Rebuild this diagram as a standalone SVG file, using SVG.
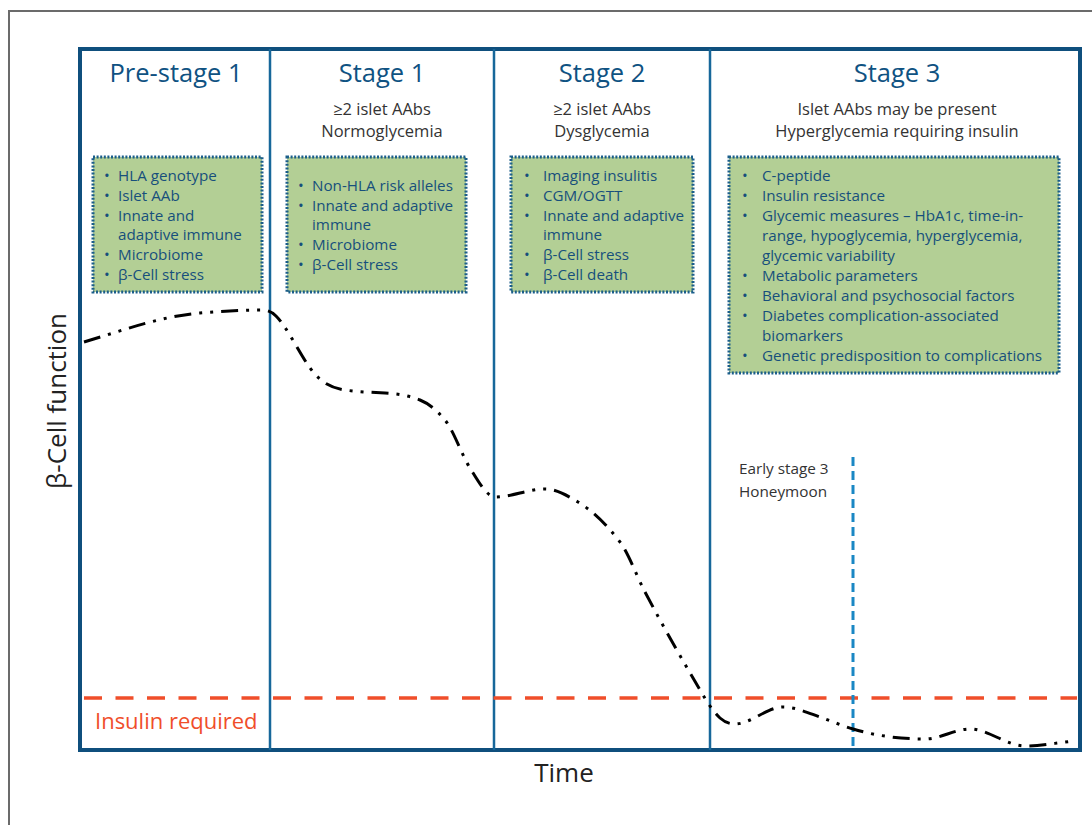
<svg xmlns="http://www.w3.org/2000/svg" width="1092" height="825" viewBox="0 0 1092 825">
  <defs>
    <style>
      .frame { fill: none; stroke: #0f4f7d; stroke-width: 4; }
      .divider { stroke: #17679a; stroke-width: 2.5; }
      .head { font-family: "Open Sans", "Noto Sans", sans-serif; font-size: 25.5px; fill: #0f5282; text-anchor: middle; }
      .sub { font-family: "Open Sans", "Noto Sans", sans-serif; font-size: 16.5px; fill: #333333; text-anchor: middle; }
      .box { fill: #b3cf95; stroke: #1b5e8a; stroke-width: 3; stroke-dasharray: 2 1.6; }
      .item { font-family: "Open Sans", "Noto Sans", sans-serif; font-size: 15.2px; fill: #174f7c; }
      .axis { font-family: "Open Sans", "Noto Sans", sans-serif; font-size: 26px; fill: #222222; }
      .note { font-family: "Open Sans", "Noto Sans", sans-serif; font-size: 15.3px; fill: #333333; }
    </style>
  </defs>

  <rect width="1092" height="825" fill="#ffffff"/>
  <!-- outer panel border -->
  <path d="M9,825 V11 H1092" fill="none" stroke="#6b6b6b" stroke-width="2"/>

  <!-- plot frame and stage dividers -->
  <g id="frame">
    <rect class="frame" x="80" y="49" width="1000" height="701"/>
    <line class="divider" x1="270" y1="49" x2="270" y2="750"/>
    <line class="divider" x1="494" y1="49" x2="494" y2="750"/>
    <line class="divider" x1="710" y1="49" x2="710" y2="750"/>
  </g>

  <!-- axis labels -->
  <text class="axis" x="66" y="401" text-anchor="middle" transform="rotate(-90 66 401)">β-Cell function</text>
  <text class="axis" x="564" y="782" text-anchor="middle">Time</text>

  <g id="prestage1">
    <text class="head" x="176" y="82">Pre-stage 1</text>
    <rect class="box" x="93" y="157" width="169" height="135"/>
    <text class="item">
      <tspan x="104" y="181">•</tspan><tspan x="118" y="181">HLA genotype</tspan>
      <tspan x="104" y="201">•</tspan><tspan x="118" y="201">Islet AAb</tspan>
      <tspan x="104" y="221">•</tspan><tspan x="118" y="221">Innate and</tspan>
      <tspan x="118" y="240">adaptive immune</tspan>
      <tspan x="104" y="260">•</tspan><tspan x="118" y="260">Microbiome</tspan>
      <tspan x="104" y="280">•</tspan><tspan x="118" y="280">β-Cell stress</tspan>
    </text>
  </g>

  <g id="stage1">
    <text class="head" x="382" y="82">Stage 1</text>
    <text class="sub" x="382" y="115">≥2 islet AAbs</text>
    <text class="sub" x="382" y="137">Normoglycemia</text>
    <rect class="box" x="287" y="157" width="179" height="135"/>
    <text class="item">
      <tspan x="298" y="191">•</tspan><tspan x="312" y="191">Non-HLA risk alleles</tspan>
      <tspan x="298" y="211">•</tspan><tspan x="312" y="211">Innate and adaptive</tspan>
      <tspan x="312" y="230">immune</tspan>
      <tspan x="298" y="250">•</tspan><tspan x="312" y="250">Microbiome</tspan>
      <tspan x="298" y="270">•</tspan><tspan x="312" y="270">β-Cell stress</tspan>
    </text>
  </g>

  <g id="stage2">
    <text class="head" x="602" y="82">Stage 2</text>
    <text class="sub" x="602" y="115">≥2 islet AAbs</text>
    <text class="sub" x="602" y="137">Dysglycemia</text>
    <rect class="box" x="511" y="157" width="182" height="135"/>
    <text class="item">
      <tspan x="524" y="181">•</tspan><tspan x="543" y="181">Imaging insulitis</tspan>
      <tspan x="524" y="201">•</tspan><tspan x="543" y="201">CGM/OGTT</tspan>
      <tspan x="524" y="221">•</tspan><tspan x="543" y="221">Innate and adaptive</tspan>
      <tspan x="543" y="240">immune</tspan>
      <tspan x="524" y="260">•</tspan><tspan x="543" y="260">β-Cell stress</tspan>
      <tspan x="524" y="280">•</tspan><tspan x="543" y="280">β-Cell death</tspan>
    </text>
  </g>

  <g id="stage3">
    <text class="head" x="897" y="82">Stage 3</text>
    <text class="sub" x="897" y="115">Islet AAbs may be present</text>
    <text class="sub" x="897" y="137">Hyperglycemia requiring insulin</text>
    <rect class="box" x="729" y="157" width="330" height="216"/>
    <text class="item">
      <tspan x="742" y="181">•</tspan><tspan x="762" y="181">C-peptide</tspan>
      <tspan x="742" y="201">•</tspan><tspan x="762" y="201">Insulin resistance</tspan>
      <tspan x="742" y="221">•</tspan><tspan x="762" y="221">Glycemic measures – HbA1c, time-in-</tspan>
      <tspan x="762" y="241">range, hypoglycemia, hyperglycemia,</tspan>
      <tspan x="762" y="261">glycemic variability</tspan>
      <tspan x="742" y="281">•</tspan><tspan x="762" y="281">Metabolic parameters</tspan>
      <tspan x="742" y="301">•</tspan><tspan x="762" y="301">Behavioral and psychosocial factors</tspan>
      <tspan x="742" y="321">•</tspan><tspan x="762" y="321">Diabetes complication-associated</tspan>
      <tspan x="762" y="341">biomarkers</tspan>
      <tspan x="742" y="361">•</tspan><tspan x="762" y="361">Genetic predisposition to complications</tspan>
    </text>
  </g>

  <g id="honeymoon">
    <text class="note"><tspan x="739" y="474">Early stage 3</tspan><tspan x="739" y="497">Honeymoon</tspan></text>
  </g>

  <g id="connectors">
    <!-- insulin threshold -->
    <line x1="84" y1="698" x2="1077" y2="698" stroke="#f04e2a" stroke-width="3.5" stroke-dasharray="18 13.5"/>
    <!-- early stage 3 marker -->
    <line x1="853" y1="457" x2="853" y2="748" stroke="#1a87c4" stroke-width="3" stroke-dasharray="9 5"/>
    <!-- beta-cell function trajectory -->
    <path fill="none" stroke="#000000" stroke-width="3" stroke-dasharray="17 8 3 8 3 8"
      d="M84,342 C122.7,330.4 161.3,316.1 200,313
         C220.7,311.3 241.3,310 262,310
         C266.7,310 271.3,311.3 276,316
         C287.3,327.3 298.7,352.2 310,368
         C321.7,384.3 333.3,388.1 345,390
         C358.3,392 371.7,392.3 385,393
         C396.7,393.6 408.3,395.3 420,400
         C428.3,403.3 436.7,410 445,420
         C453.3,430 461.7,454.7 470,468
         C478.3,481.3 486.7,496.6 495,497
         C511.7,497 528.3,489 545,489
         C556,489 567,495.4 578,502
         C592,510.4 606,523.8 620,542
         C628.3,552.8 636.7,576.2 645,592
         C663.3,626.8 681.7,658.9 700,690
         C706.7,701.4 713.3,712 720,718
         C725,722.5 730,724 735,724
         C751,724 767,707 783,707
         C795.3,707 807.7,712.7 820,717
         C831,720.9 842,725.7 853,729
         C877,736.2 901,739 925,739
         C940,739 955,729 970,729
         C988.3,729 1006.7,746 1025,746
         C1041.3,746 1057.7,742.6 1074,741"/>
  </g>

  <text x="95" y="729" font-family="Open Sans, Noto Sans, sans-serif" font-size="22" fill="#f04e2a">Insulin required</text>
</svg>
